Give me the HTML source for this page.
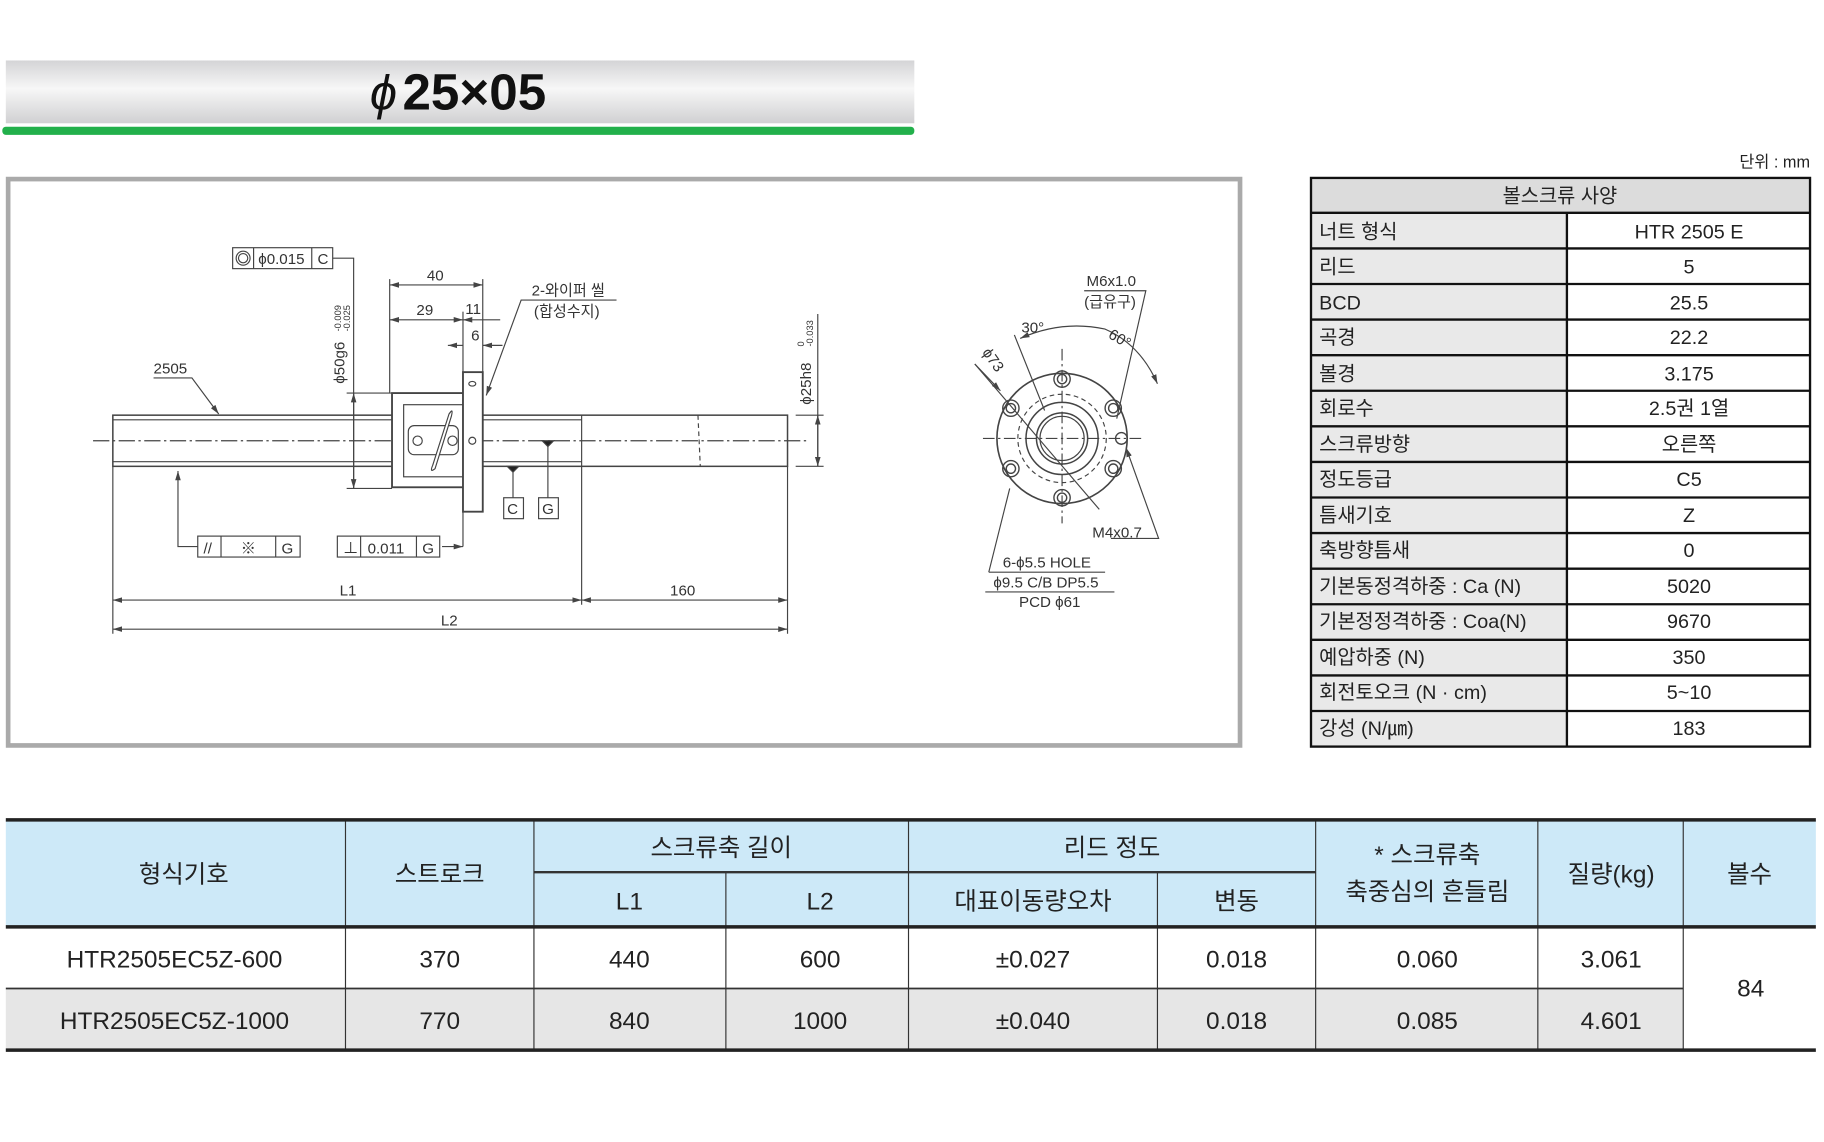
<!DOCTYPE html>
<html><head><meta charset="utf-8"><style>
html,body{margin:0;padding:0;background:#fff;}
svg{display:block;}
text{font-family:"Liberation Sans","Noto Sans CJK KR",sans-serif;}
</style></head><body>
<svg width="1824" height="1142" viewBox="0 0 1568 982" preserveAspectRatio="none" xmlns="http://www.w3.org/2000/svg">
<defs>
<linearGradient id="hg" x1="0" y1="0" x2="0" y2="1">
<stop offset="0" stop-color="#d4d4d6"/><stop offset="0.45" stop-color="#f7f7f7"/><stop offset="1" stop-color="#d0d0d2"/>
</linearGradient>
<marker id="ar" viewBox="0 0 10 6" refX="10" refY="3" markerWidth="8" markerHeight="5" orient="auto-start-reverse"><path d="M0,0L10,3L0,6z" fill="#444"/></marker>
</defs>
<!-- header -->
<rect x="5" y="52" width="781" height="54" fill="url(#hg)"/>
<rect x="2" y="109" width="784" height="7" rx="3" fill="#22b04b"/>
<text x="318" y="94" font-size="42" font-style="italic" fill="#111">ϕ</text>
<text x="346" y="94" font-size="44" font-weight="bold" fill="#111">25×05</text>
<!-- drawing frame -->
<rect x="7" y="154" width="1059" height="487" fill="#fff" stroke="#aaa" stroke-width="4"/>
<g stroke="#444" fill="none" stroke-width="1">
<!-- shaft -->
<rect x="97" y="357" width="580" height="44" fill="#fff" stroke-width="1.3"/>
<line x1="97" y1="361" x2="500" y2="361"/><line x1="97" y1="397" x2="500" y2="397"/>
<line x1="500" y1="357" x2="500" y2="401"/>
<line x1="600" y1="357" x2="602" y2="401" stroke-dasharray="4 3"/>
<line x1="80" y1="379" x2="695" y2="379" stroke-dasharray="14 3 2 3"/>
<!-- nut -->
<rect x="337" y="338" width="62" height="81" fill="#fff" stroke-width="1.6"/>
<rect x="347" y="348" width="52" height="62" fill="#fff"/>
<rect x="398" y="320" width="17" height="120" fill="#fff" stroke-width="1.6"/>
<rect x="351" y="366" width="43" height="25" rx="5" fill="#fff"/>
<path d="M372,400 L386,356 Q390,350 388,358 L374,403 Q369,407 372,400z" fill="#fff"/>
<circle cx="359" cy="379" r="4"/><circle cx="389" cy="379" r="4"/>
<circle cx="406" cy="379" r="3"/><ellipse cx="406" cy="330" rx="3" ry="2"/>
<!-- leader lines -->
<polyline points="132,325 165,325 188,356" marker-end="url(#ar)"/>
<polyline points="153,405 153,470 170,470" marker-start="url(#ar)"/>
<line x1="380" y1="470" x2="398" y2="470" marker-end="url(#ar)"/>
<line x1="398" y1="440" x2="398" y2="470"/>
<polyline points="286,222 304,222 304,420"/>
<line x1="304" y1="338" x2="304" y2="420" marker-start="url(#ar)" marker-end="url(#ar)"/>
<line x1="298" y1="338" x2="337" y2="338"/><line x1="298" y1="420" x2="337" y2="420"/>
<line x1="335" y1="240" x2="335" y2="338"/><line x1="415" y1="240" x2="415" y2="320"/><line x1="398" y1="268" x2="398" y2="320"/>
<line x1="335" y1="245" x2="415" y2="245" marker-start="url(#ar)" marker-end="url(#ar)"/>
<line x1="335" y1="275" x2="398" y2="275" marker-start="url(#ar)" marker-end="url(#ar)"/>
<line x1="398" y1="275" x2="430" y2="275" marker-start="url(#ar)"/>
<line x1="398" y1="297" x2="385" y2="297" marker-end="url(#ar)"/>
<line x1="415" y1="297" x2="432" y2="297" marker-start="url(#ar)"/>
<polyline points="530,258 448,258 418,340" marker-end="url(#ar)"/>
<line x1="441" y1="401" x2="441" y2="428"/><line x1="471" y1="379" x2="471" y2="428"/>
<path d="M436,401 L446,401 L441,406z M466,379 L476,379 L471,384z" fill="#222"/>
<line x1="684" y1="357" x2="708" y2="357"/><line x1="684" y1="401" x2="708" y2="401"/>
<line x1="703" y1="270" x2="703" y2="401"/>
<line x1="703" y1="357" x2="703" y2="401" marker-start="url(#ar)" marker-end="url(#ar)"/>
<!-- dims L1 L2 -->
<line x1="97" y1="401" x2="97" y2="545"/><line x1="677" y1="401" x2="677" y2="545"/><line x1="500" y1="401" x2="500" y2="520"/>
<line x1="97" y1="516" x2="500" y2="516" marker-start="url(#ar)" marker-end="url(#ar)"/>
<line x1="500" y1="516" x2="677" y2="516" marker-start="url(#ar)" marker-end="url(#ar)"/>
<line x1="97" y1="541" x2="677" y2="541" marker-start="url(#ar)" marker-end="url(#ar)"/>
<!-- tolerance frames -->
<rect x="200" y="213" width="86" height="18"/><line x1="218" y1="213" x2="218" y2="231"/><line x1="268" y1="213" x2="268" y2="231"/>
<circle cx="209" cy="222" r="6"/><circle cx="209" cy="222" r="4"/>
<rect x="170" y="461" width="88" height="18"/><line x1="190" y1="461" x2="190" y2="479"/><line x1="237" y1="461" x2="237" y2="479"/>
<rect x="290" y="461" width="88" height="18"/><line x1="310" y1="461" x2="310" y2="479"/><line x1="358" y1="461" x2="358" y2="479"/>
<rect x="433" y="428" width="17" height="18"/><rect x="463" y="428" width="17" height="18"/>
<!-- end view -->
<circle cx="913" cy="377" r="56" stroke-width="1.4"/>
<circle cx="913" cy="377" r="38" stroke-dasharray="4 3"/>
<circle cx="913" cy="377" r="31" stroke-width="1.3"/>
<circle cx="913" cy="377" r="22" stroke-width="1.3"/><circle cx="913" cy="377" r="19"/>
<line x1="845" y1="377" x2="982" y2="377" stroke-dasharray="10 3 2 3"/><line x1="913" y1="300" x2="913" y2="450" stroke-dasharray="10 3 2 3"/>
<g stroke-width="1.2">
<circle cx="913" cy="326" r="7"/><circle cx="913" cy="326" r="4"/>
<circle cx="913" cy="428" r="7"/><circle cx="913" cy="428" r="4"/>
<circle cx="869" cy="351" r="7"/><circle cx="869" cy="351" r="4"/>
<circle cx="957" cy="351" r="7"/><circle cx="957" cy="351" r="4"/>
<circle cx="869" cy="403" r="7"/><circle cx="869" cy="403" r="4"/>
<circle cx="957" cy="403" r="7"/><circle cx="957" cy="403" r="4"/>
<circle cx="964" cy="377" r="5"/>
</g>
<line x1="838" y1="313" x2="945" y2="438"/>
<line x1="838" y1="313" x2="860" y2="336" marker-end="url(#ar)"/>
<line x1="872" y1="288" x2="898" y2="353"/>
<path d="M877,291 Q913,275 950,283 Q980,296 995,330" marker-start="url(#ar)" marker-end="url(#ar)"/>
<polyline points="932,250 985,250 960,360" />
<polyline points="955,463 996,463 968,385" marker-end="url(#ar)"/>
<line x1="850" y1="492" x2="868" y2="420"/>
<line x1="850" y1="492" x2="950" y2="492"/><line x1="847" y1="509" x2="958" y2="509"/>
</g>
<g fill="#333" font-size="13">
<text x="222" y="227" font-size="13">ϕ0.015</text><text x="273" y="227">C</text>
<text x="132" y="321">2505</text>
<text x="367" y="241">40</text><text x="358" y="271">29</text><text x="400" y="270">11</text><text x="405" y="293">6</text>
<text x="457" y="254">2-와이퍼 씰</text><text x="459" y="272">(합성수지)</text>
<text x="175" y="476">//</text><text x="207" y="476">※</text><text x="242" y="476">G</text>
<text x="295" y="476">⊥</text><text x="316" y="476">0.011</text><text x="363" y="476">G</text>
<text x="436" y="442">C</text><text x="466" y="442">G</text>
<text x="292" y="512">L1</text><text x="576" y="512">160</text><text x="379" y="538">L2</text>
<text transform="translate(296,330) rotate(-90)" font-size="13">ϕ50g6</text>
<text transform="translate(293,285) rotate(-90)" font-size="8">-0.009</text>
<text transform="translate(301,285) rotate(-90)" font-size="8">-0.025</text>
<text transform="translate(697,348) rotate(-90)" font-size="13">ϕ25h8</text>
<text transform="translate(691,298) rotate(-90)" font-size="8">0</text>
<text transform="translate(699,298) rotate(-90)" font-size="8">-0.033</text>
<text x="934" y="246">M6x1.0</text><text x="932" y="264">(급유구)</text>
<text x="878" y="286">30°</text><text transform="translate(952,290) rotate(30)">60°</text>
<text transform="translate(844,303) rotate(55)">ϕ73</text>
<text x="939" y="462">M4x0.7</text>
<text x="862" y="488">6-ϕ5.5 HOLE</text><text x="854" y="505">ϕ9.5 C/B DP5.5</text><text x="876" y="522">PCD ϕ61</text>
</g>
<!-- spec table -->
<text x="1556" y="144" font-size="14" text-anchor="end" fill="#222">단위 : mm</text>
<rect x="1127" y="153" width="429" height="30" fill="#dcdcdc"/>
<rect x="1127" y="183" width="220" height="459" fill="#e9e9e9"/>
<g stroke="#111" stroke-width="2" fill="none">
<rect x="1127" y="153" width="429" height="489"/>
<line x1="1347" y1="183" x2="1347" y2="642"/>
<line x1="1127" y1="183" x2="1556" y2="183"/><line x1="1127" y1="213.6" x2="1556" y2="213.6"/><line x1="1127" y1="244.2" x2="1556" y2="244.2"/><line x1="1127" y1="274.8" x2="1556" y2="274.8"/><line x1="1127" y1="305.4" x2="1556" y2="305.4"/><line x1="1127" y1="336" x2="1556" y2="336"/><line x1="1127" y1="366.6" x2="1556" y2="366.6"/><line x1="1127" y1="397.2" x2="1556" y2="397.2"/><line x1="1127" y1="427.8" x2="1556" y2="427.8"/><line x1="1127" y1="458.4" x2="1556" y2="458.4"/><line x1="1127" y1="489" x2="1556" y2="489"/><line x1="1127" y1="519.6" x2="1556" y2="519.6"/><line x1="1127" y1="550.2" x2="1556" y2="550.2"/><line x1="1127" y1="580.8" x2="1556" y2="580.8"/><line x1="1127" y1="611.4" x2="1556" y2="611.4"/>
</g>
<g font-size="17" fill="#222">
<text x="1341" y="174" text-anchor="middle">볼스크류 사양</text>
<text x="1134" y="205">너트 형식</text><text x="1134" y="235">리드</text><text x="1134" y="266">BCD</text><text x="1134" y="296">곡경</text><text x="1134" y="327">볼경</text><text x="1134" y="357">회로수</text><text x="1134" y="388">스크류방향</text><text x="1134" y="418">정도등급</text><text x="1134" y="449">틈새기호</text><text x="1134" y="479">축방향틈새</text><text x="1134" y="510">기본동정격하중 : Ca (N)</text><text x="1134" y="540">기본정정격하중 : Coa(N)</text><text x="1134" y="571">예압하중 (N)</text><text x="1134" y="601">회전토오크 (N · cm)</text><text x="1134" y="632">강성 (N/㎛)</text>
</g>
<g font-size="17" fill="#222" text-anchor="middle">
<text x="1452" y="205">HTR 2505 E</text><text x="1452" y="235">5</text><text x="1452" y="266">25.5</text><text x="1452" y="296">22.2</text><text x="1452" y="327">3.175</text><text x="1452" y="357">2.5권 1열</text><text x="1452" y="388">오른쪽</text><text x="1452" y="418">C5</text><text x="1452" y="449">Z</text><text x="1452" y="479">0</text><text x="1452" y="510">5020</text><text x="1452" y="540">9670</text><text x="1452" y="571">350</text><text x="1452" y="601">5~10</text><text x="1452" y="632">183</text>
</g>
<!-- bottom table -->
<rect x="5" y="705" width="1556" height="92" fill="#cde9f8"/>
<rect x="5" y="850" width="1442" height="53" fill="#e6e6e6"/>
<g stroke="#333" stroke-width="1" fill="none">
<line x1="297" y1="705" x2="297" y2="903"/><line x1="459" y1="705" x2="459" y2="903"/><line x1="624" y1="750" x2="624" y2="903"/><line x1="781" y1="705" x2="781" y2="903"/><line x1="995" y1="750" x2="995" y2="903"/><line x1="1131" y1="705" x2="1131" y2="903"/><line x1="1322" y1="705" x2="1322" y2="903"/><line x1="1447" y1="705" x2="1447" y2="903"/>
<line x1="459" y1="750" x2="1131" y2="750" stroke-width="2"/>
<line x1="5" y1="850" x2="1447" y2="850" stroke-width="1.5"/>
</g>
<g stroke="#222" stroke-width="3">
<line x1="5" y1="705" x2="1561" y2="705"/><line x1="5" y1="797" x2="1561" y2="797"/><line x1="5" y1="903" x2="1561" y2="903"/>
</g>
<g font-size="21" fill="#222" text-anchor="middle">
<text x="158" y="759">형식기호</text><text x="378" y="759">스트로크</text><text x="620" y="736">스크류축 길이</text><text x="956" y="736">리드 정도</text>
<text x="541" y="782">L1</text><text x="705" y="782">L2</text><text x="888" y="782">대표이동량오차</text><text x="1063" y="782">변동</text>
<text x="1227" y="742">* 스크류축</text><text x="1227" y="774">축중심의 흔들림</text><text x="1385" y="759">질량(kg)</text><text x="1504" y="759">볼수</text>
<text x="150" y="832">HTR2505EC5Z-600</text><text x="378" y="832">370</text><text x="541" y="832">440</text><text x="705" y="832">600</text><text x="888" y="832">±0.027</text><text x="1063" y="832">0.018</text><text x="1227" y="832">0.060</text><text x="1385" y="832">3.061</text>
<text x="150" y="885">HTR2505EC5Z-1000</text><text x="378" y="885">770</text><text x="541" y="885">840</text><text x="705" y="885">1000</text><text x="888" y="885">±0.040</text><text x="1063" y="885">0.018</text><text x="1227" y="885">0.085</text><text x="1385" y="885">4.601</text>
<text x="1505" y="857">84</text>
</g>
</svg>
</body></html>
